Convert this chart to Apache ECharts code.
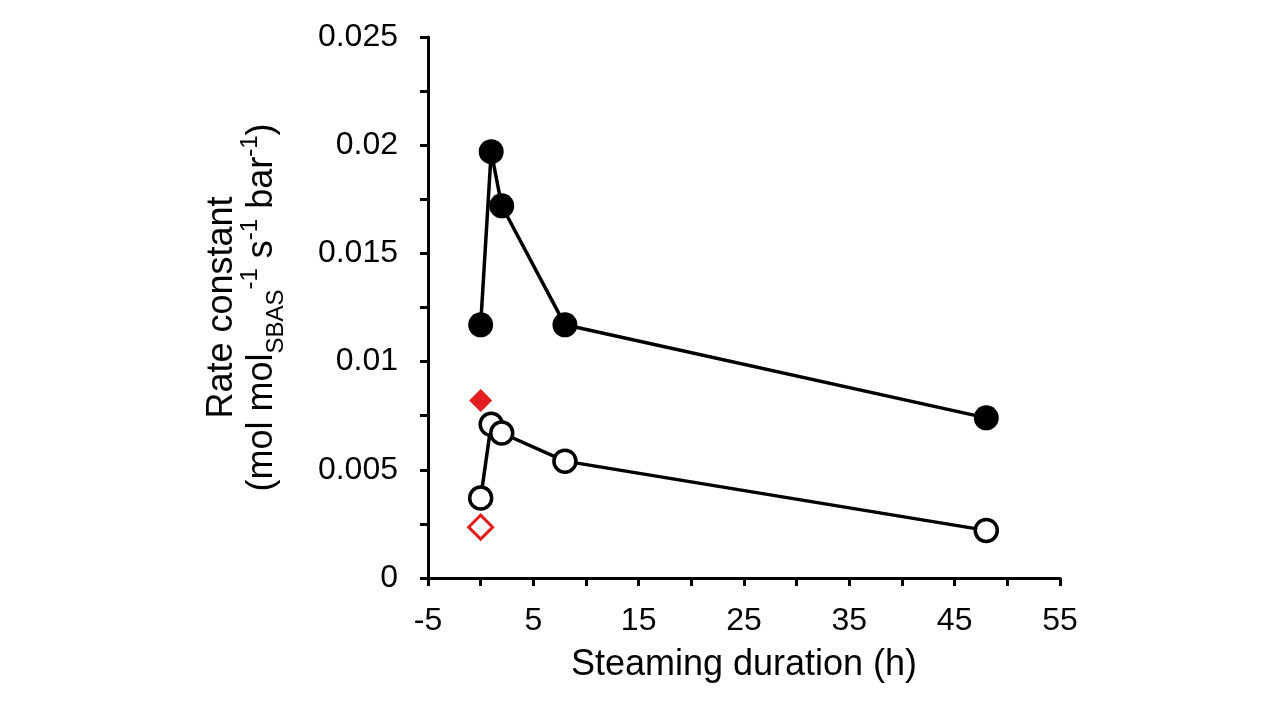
<!DOCTYPE html>
<html>
<head>
<meta charset="utf-8">
<script src="https://cdn.jsdelivr.net/npm/echarts@6/dist/echarts.min.js"></script>
<style>
  html, body { margin: 0; padding: 0; background: #fff; }
  #main { width: 1283px; height: 709px; }
</style>
</head>
<body>
<div id="main"></div>
<script>
var hours = [0, 1, 2, 8, 48];
var filledRate = [0.0117, 0.0197, 0.0172, 0.0117, 0.0074];
var openRate = [0.0037, 0.0071, 0.0067, 0.0054, 0.0022];
var redFilled = [[0, 0.0082]];
var redOpen = [[0, 0.00235]];

function pairs(xs, ys) {
    return xs.map(function (x, i) { return [x, ys[i]]; });
}

var font = "'Liberation Sans', Arial, sans-serif";
var chart = echarts.init(document.getElementById('main'));

var option = {
    backgroundColor: '#fff',
    animation: false,
    grid: { left: 428, right: 223, top: 37, bottom: 131 },
    xAxis: {
        type: 'value',
        min: -5,
        max: 55,
        interval: 10,
        name: 'Steaming duration (h)',
        nameLocation: 'middle',
        nameGap: 69,
        nameTextStyle: { fontFamily: font, fontSize: 36, color: '#000' },
        axisLine: { onZero: false, lineStyle: { color: '#000', width: 3 } },
        axisTick: { show: true, inside: false, length: 8, lineStyle: { color: '#000', width: 3 } },
        minorTick: { show: true, splitNumber: 2, length: 8, lineStyle: { color: '#000', width: 3 } },
        axisLabel: { fontFamily: font, fontSize: 32, color: '#000', margin: 27 },
        splitLine: { show: false }
    },
    yAxis: {
        type: 'value',
        min: 0,
        max: 0.025,
        interval: 0.005,
        name: '{n|Rate constant}\n{n|(mol mol}{sub|SBAS}{sup|-1}{n| s}{sup|-1}{n| bar}{sup|-1}{n|)}',
        nameLocation: 'middle',
        nameRotate: 90,
        nameGap: 146,
        nameTextStyle: {
            fontFamily: font,
            color: '#000',
            rich: {
                n: { fontFamily: font, fontSize: 36, color: '#000', lineHeight: 40 },
                sub: { fontFamily: font, fontSize: 24, color: '#000', lineHeight: 40, verticalAlign: 'bottom', padding: [0, 0, -6, 0] },
                sup: { fontFamily: font, fontSize: 24, color: '#000', lineHeight: 40, verticalAlign: 'top', padding: [-4, 0, 0, 0] }
            }
        },
        axisLine: { show: true, onZero: false, lineStyle: { color: '#000', width: 3 } },
        axisTick: { show: true, inside: false, length: 8, lineStyle: { color: '#000', width: 3 } },
        minorTick: { show: true, splitNumber: 2, length: 8, lineStyle: { color: '#000', width: 3 } },
        axisLabel: {
            fontFamily: font, fontSize: 32, color: '#000', margin: 30,
            formatter: function (v) { return v === 0 ? '0' : String(+v.toFixed(3)); }
        },
        splitLine: { show: false }
    },
    series: [
        {
            name: 'filled',
            type: 'line',
            data: pairs(hours, filledRate),
            symbol: 'circle',
            symbolSize: 25,
            itemStyle: { color: '#000', opacity: 1 },
            lineStyle: { color: '#000', width: 3.5 },
            z: 3
        },
        {
            name: 'open',
            type: 'line',
            data: pairs(hours, openRate),
            symbol: 'circle',
            symbolSize: 22,
            itemStyle: { color: '#fff', borderColor: '#000', borderWidth: 3.5, opacity: 1 },
            lineStyle: { color: '#000', width: 3.5 },
            z: 3
        },
        {
            name: 'redFilled',
            type: 'scatter',
            data: redFilled,
            symbol: 'diamond',
            symbolSize: 23,
            itemStyle: { color: '#e31e1e', opacity: 1 },
            z: 4
        },
        {
            name: 'redOpen',
            type: 'scatter',
            data: redOpen,
            symbol: 'diamond',
            symbolSize: 24,
            itemStyle: { color: '#fff', borderColor: '#e31e1e', borderWidth: 3, opacity: 1 },
            z: 4
        }
    ]
};

chart.setOption(option);
</script>
</body>
</html>
